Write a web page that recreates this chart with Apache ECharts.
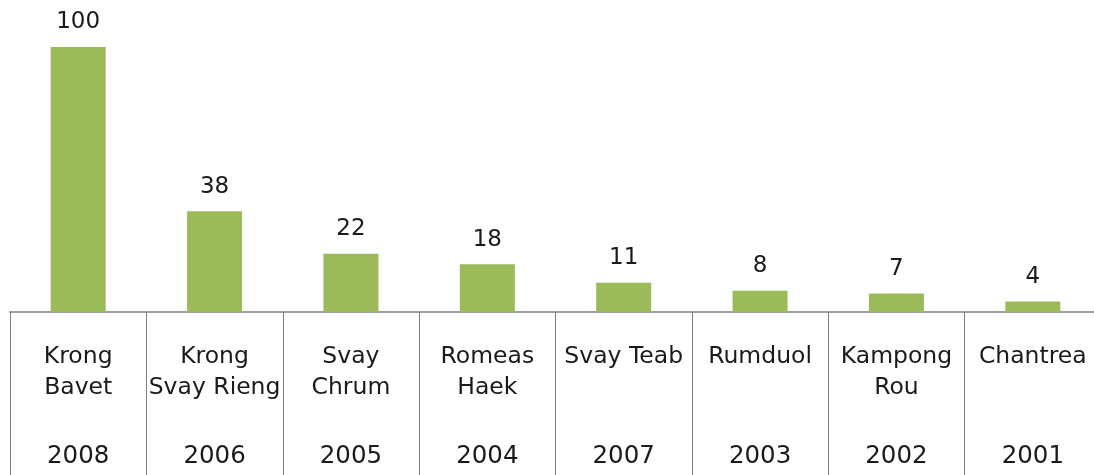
<!DOCTYPE html>
<html>
<head>
<meta charset="utf-8">
<script src="https://cdn.jsdelivr.net/npm/echarts@6/dist/echarts.min.js"></script>
<style>
  html, body { margin: 0; padding: 0; background: #fff; overflow: hidden; }
  #chart { width: 1101px; height: 475px; }
</style>
</head>
<body>
<div id="chart"></div>
<script>
var communes = [['Krong', 'Bavet'], ['Krong', 'Svay Rieng'], ['Svay', 'Chrum'], ['Romeas', 'Haek'],
    ['Svay Teab'], ['Rumduol'], ['Kampong', 'Rou'], ['Chantrea']];
var years = ['2008', '2006', '2005', '2004', '2007', '2003', '2002', '2001'];
var values = [100, 38, 22, 18, 11, 8, 7, 4];

var categories = communes.map(function (c, i) { return i; });

var myChart = echarts.init(document.getElementById('chart'));

var option = {
    animation: false,
    grid: {
        left: 10,
        right: 0,
        top: 47,
        bottom: 163
    },
    xAxis: {
        type: 'category',
        data: categories,
        axisLine: {
            lineStyle: { color: '#a0a0a0', width: 2 }
        },
        axisTick: {
            show: true,
            interval: 0,
            length: 170,
            lineStyle: { color: '#808080', width: 1 }
        },
        axisLabel: {
            interval: 0,
            margin: 29,
            formatter: function (v) {
                var c = communes[v];
                var second = c.length > 1 ? c[1] : ' ';
                return '{n|' + c[0] + '}\n{n|' + second + '}\n{y|' + years[v] + '}';
            },
            rich: {
                n: { fontFamily: 'DejaVu Sans', fontSize: 23.5, lineHeight: 31, color: '#1a1a1a' },
                y: { fontFamily: 'DejaVu Sans', fontSize: 24.5, lineHeight: 107, color: '#1a1a1a' }
            }
        }
    },
    yAxis: {
        type: 'value',
        min: 0,
        max: 100,
        show: false,
        splitLine: { show: false }
    },
    series: [{
        type: 'bar',
        data: values,
        barWidth: 55,
        itemStyle: { color: '#9bbb59' },
        label: {
            show: true,
            position: 'top',
            distance: 13,
            fontFamily: 'DejaVu Sans',
            fontSize: 23,
            color: '#1a1a1a'
        }
    }]
};

myChart.setOption(option);
</script>
</body>
</html>
